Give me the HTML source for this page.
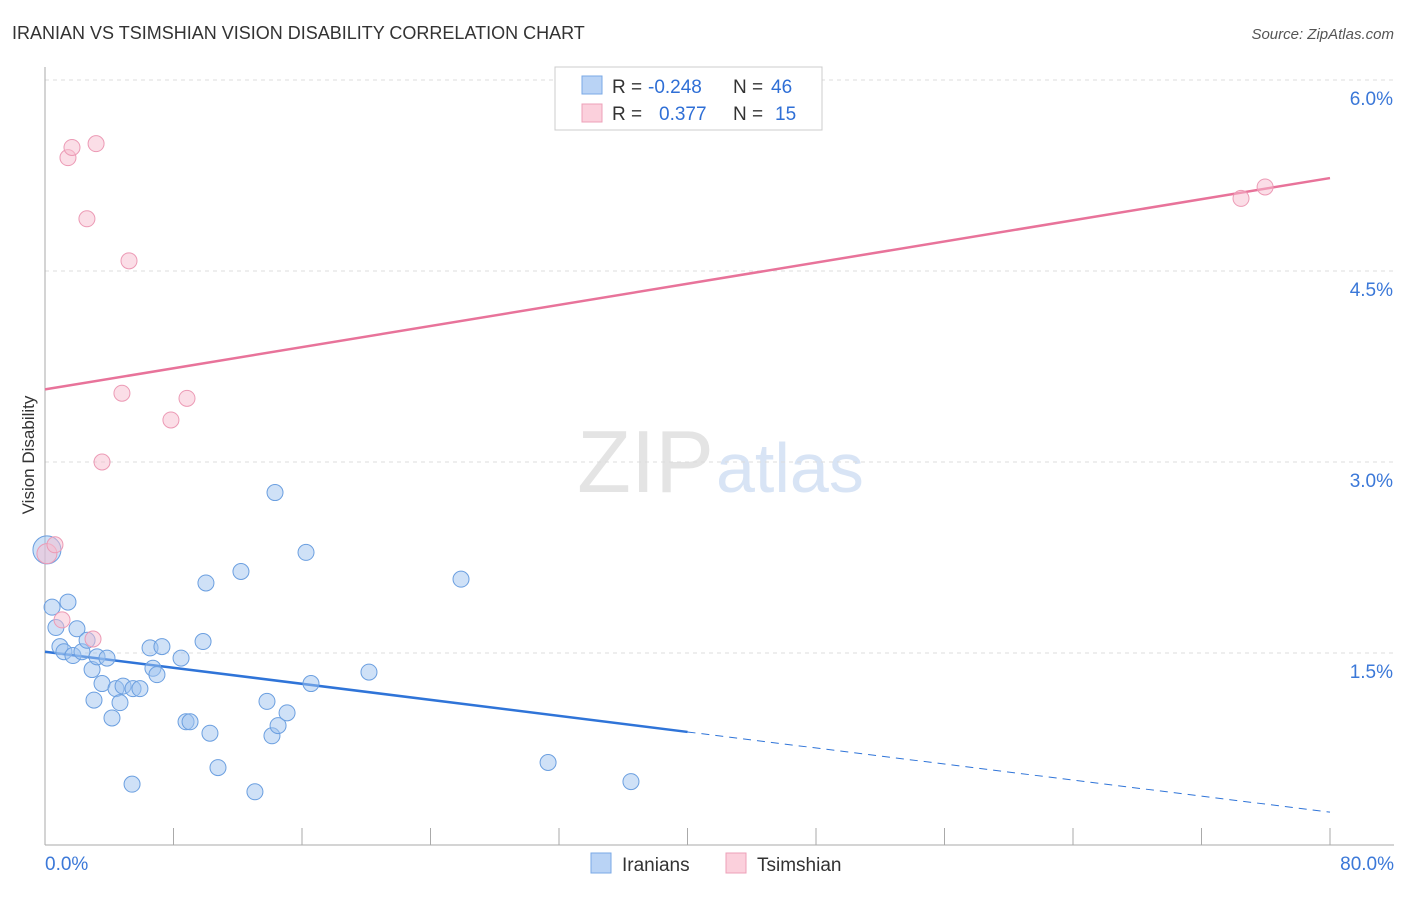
<!DOCTYPE html>
<html><head><meta charset="utf-8"><style>
body{margin:0;background:#fff;font-family:"Liberation Sans",sans-serif;}
svg text{font-family:"Liberation Sans",sans-serif;}
</style></head><body>
<svg id="chart" width="1406" height="892" xmlns="http://www.w3.org/2000/svg">
<text x="12" y="39" font-size="18" fill="#333">IRANIAN VS TSIMSHIAN VISION DISABILITY CORRELATION CHART</text>
<text x="1394" y="39" font-size="15" fill="#555" font-style="italic" text-anchor="end">Source: ZipAtlas.com</text>
<text x="714" y="492" font-size="88" fill="#e4e4e4" text-anchor="end" font-family="Liberation Serif">ZIP</text>
<text x="716" y="492" font-size="70" fill="#d8e4f5">atlas</text>
<text x="34" y="455" font-size="17" fill="#333" transform="rotate(-90 34 455)" text-anchor="middle">Vision Disability</text>
<g id="grid"></g><g id="axes"></g><g id="trend"></g><g id="pts"></g>
<g>
<rect x="555" y="67" width="267" height="63" fill="#fff" stroke="#ccc"/>
<rect x="582" y="76" width="20" height="18" fill="#b9d3f5" stroke="#7aa8e6"/>
<rect x="582" y="104" width="20" height="18" fill="#fbd0dc" stroke="#eea0b8"/>
<text x="612" y="93" font-size="19" fill="#333">R =</text>
<text x="648" y="93" font-size="19" fill="#2f6fd6">-0.248</text>
<text x="733" y="93" font-size="19" fill="#333">N =</text>
<text x="771" y="93" font-size="19" fill="#2f6fd6">46</text>
<text x="612" y="120" font-size="19" fill="#333">R =</text>
<text x="659" y="120" font-size="19" fill="#2f6fd6">0.377</text>
<text x="733" y="120" font-size="19" fill="#333">N =</text>
<text x="775" y="120" font-size="19" fill="#2f6fd6">15</text>
</g>
<g>
<rect x="591" y="853" width="20" height="20" fill="#b9d3f5" stroke="#7aa8e6"/>
<text x="622" y="871" font-size="19" fill="#333">Iranians</text>
<rect x="726" y="853" width="20" height="20" fill="#fbd0dc" stroke="#eea0b8"/>
<text x="757" y="871" font-size="19" fill="#333">Tsimshian</text>
</g>
</svg>
<script>
const yTicks=[1.5,3.0,4.5,6.0];
const xTickLabels=["0.0%","80.0%"];
const blueX=[0.12,0.44,1.43,0.68,0.93,1.18,1.74,1.99,2.30,2.62,2.93,3.24,3.86,3.05,3.55,4.17,4.42,4.67,4.86,5.48,5.91,5.42,6.54,6.72,6.97,7.28,8.47,8.78,9.03,9.84,10.02,10.27,10.77,12.20,13.07,13.82,14.13,14.51,14.32,15.07,16.25,16.56,20.17,25.90,31.32,36.48];
const blueY=[2.31,1.86,1.90,1.70,1.55,1.51,1.48,1.69,1.51,1.60,1.37,1.47,1.46,1.13,1.26,0.99,1.22,1.11,1.24,1.22,1.22,0.47,1.54,1.38,1.33,1.55,1.46,0.96,0.96,1.59,2.05,0.87,0.60,2.14,0.41,1.12,0.85,0.93,2.76,1.03,2.29,1.26,1.35,2.08,0.64,0.49];
const pinkX=[0.12,0.62,1.06,1.43,1.68,3.18,2.61,2.99,3.55,4.79,5.23,7.84,8.84,74.46,75.96];
const pinkY=[2.28,2.35,1.76,5.39,5.47,5.50,4.91,1.61,3.00,3.54,4.58,3.33,3.50,5.07,5.16];
const blueTrend=[1.51,0.25];
const pinkTrend=[3.57,5.23];
const NS="http://www.w3.org/2000/svg";
const xs=v=>45+v/80*1285, ys=v=>844-v/1.5*191;
function mk(t,a,p){const e=document.createElementNS(NS,t);for(const k in a)e.setAttribute(k,a[k]);document.getElementById(p).appendChild(e);return e;}
yTicks.forEach(t=>{
 const l=mk('line',{x1:45,x2:1394,y1:ys(t),y2:ys(t),stroke:'#ddd','stroke-dasharray':'4,4'},'grid');
 
 
 const tx=mk('text',{x:1393,y:ys(t)+25,'font-size':19,fill:'#3b78d8','text-anchor':'end'},'grid');
 tx.textContent=t.toFixed(1)+'%';
 
 
});
const ax=mk('line',{x1:45,x2:1394,y1:845,y2:845,stroke:'#aaa'},'axes');


const ay=mk('line',{x1:45,x2:45,y1:67,y2:845,stroke:'#aaa'},'axes');


for(let i=0;i<=10;i++){const t=mk('line',{x1:xs(i*8),x2:xs(i*8),y1:828,y2:845,stroke:'#aaa'},'axes');
 
 }
[[0,'start',45],[80,'end',1394]].forEach((d,i)=>{const t=mk('text',{x:d[2],y:870,'font-size':19,fill:'#3b78d8','text-anchor':d[1]},'axes');t.textContent=xTickLabels[i];
 
 });
const yt=v=>ys(v);
const bmid=blueTrend[0]+(blueTrend[1]-blueTrend[0])*0.5;
let e=mk('line',{x1:xs(0),y1:yt(blueTrend[0]),x2:xs(40),y2:yt(bmid),stroke:'#2f74d8','stroke-width':2.5},'trend');


e=mk('line',{x1:xs(40),y1:yt(bmid),x2:xs(80),y2:yt(blueTrend[1]),stroke:'#2f74d8','stroke-width':1,'stroke-dasharray':'8,6'},'trend');


e=mk('line',{x1:xs(0),y1:yt(pinkTrend[0]),x2:xs(80),y2:yt(pinkTrend[1]),stroke:'#e8739a','stroke-width':2.5},'trend');


blueX.forEach((x,i)=>{const c=mk('circle',{cx:xs(x),cy:yt(blueY[i]),r:i==0?14:8,fill:'rgba(160,196,240,0.5)',stroke:'#6b9fe0','stroke-width':1},'pts');
 
 });
pinkX.forEach((x,i)=>{const c=mk('circle',{cx:xs(x),cy:yt(pinkY[i]),r:i==0?10:8,fill:'rgba(248,190,208,0.5)',stroke:'#ec9ab5','stroke-width':1},'pts');
 
 });
</script>
</body></html>
